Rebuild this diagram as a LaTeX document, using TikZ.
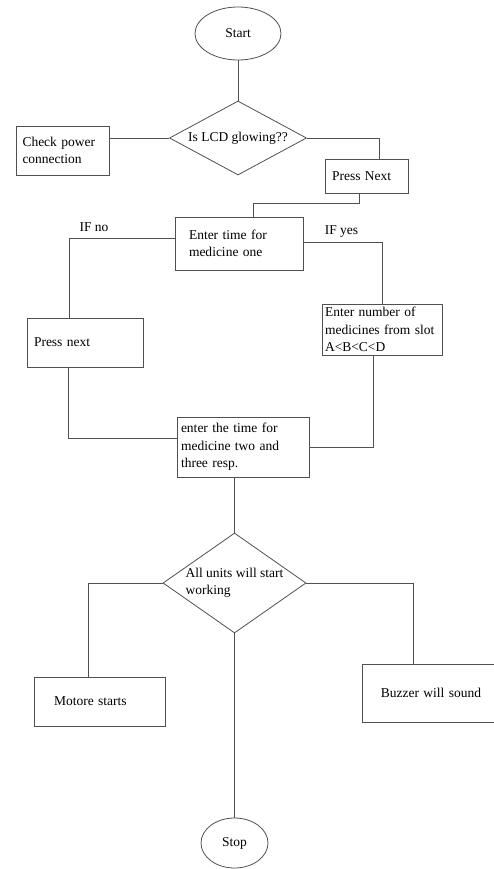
\documentclass[tikz,border=0pt]{standalone}
\usepackage{fontspec}
\setmainfont{Liberation Serif}
\usetikzlibrary{shapes.geometric}
\definecolor{linec}{HTML}{505050}
\begin{document}
\begin{tikzpicture}[x=1pt,y=-1pt,line width=0.8pt,
  every node/.style={font=\fontsize{13.5}{17.5}\selectfont, text=black},
  box/.style={draw=linec, rectangle, inner ysep=0pt, align=left},
  decision/.style={draw=linec, diamond, inner sep=0pt},
  term/.style={draw=linec, ellipse, inner sep=0pt},
  conn/.style={draw=linec, line width=0.8pt},
  lbl/.style={inner sep=0pt}]
\useasboundingbox (0,0) rectangle (493,869);

% terminals
\node[term, minimum width=86pt, minimum height=53pt] (start) at (238,33.5) {Start};
\node[term, minimum width=67pt, minimum height=50pt] (stop) at (234.5,843) {Stop};

% decisions
\node[decision, aspect=1.85, minimum width=137pt, minimum height=74pt] (d1) at (238,138) {Is LCD glowing??};
\node[decision, aspect=1.43, minimum width=143pt, minimum height=100pt, align=left] (d2) at (234.5,583) {All units will start\\working};

% boxes
\node[box, minimum width=93pt, minimum height=49pt, inner xsep=6.5pt, text width=80pt] (cp) at (62.5,150.5) {Check power\\connection};
\node[box, minimum width=83pt, minimum height=34pt, inner xsep=7pt, text width=69pt] (pn) at (366.5,176) {Press Next};
\node[box, minimum width=128pt, minimum height=53pt, inner xsep=14pt, text width=100pt] (et) at (239,243.5) {Enter time for\\medicine one};
\node[box, minimum width=116pt, minimum height=49pt, inner xsep=7pt, text width=102pt] (pnx) at (85,342.5) {Press next};
\node[box, minimum width=120pt, minimum height=51pt, inner xsep=3pt, text width=114pt] (en) at (382,329.5) {Enter number of\\medicines from slot\\A<B<C<D};
\node[box, minimum width=132pt, minimum height=60pt, inner xsep=4pt, text width=124pt] (tt) at (243,447) {enter the time for\\medicine two and\\three resp.};
\node[box, minimum width=131pt, minimum height=49pt, inner xsep=20pt, text width=91pt] (mo) at (99.5,701.5) {Motore starts};
\node[box, minimum width=138pt, minimum height=58pt, inner xsep=4pt, text width=130pt, align=center] (bz) at (431,693) {Buzzer will sound};

% labels
\node[lbl] (ifno) at (94,227) {IF no};
\node[lbl] (ifyes) at (341.5,232) {IF yes};

% connectors
\draw[conn] (start.south) -- (d1.north);
\draw[conn] (d1.west) -- (d1.west -| cp.east);
\draw[conn] (d1.east) -| ([xshift=12.5pt]pn.north);
\draw[conn] ([xshift=-7.5pt]pn.south) -- ++(0,10) -| ([xshift=14pt]et.north);
\draw[conn] ([yshift=5.5pt]et.west) -| ([xshift=-16pt]pnx.north);
\draw[conn] ([yshift=1.5pt]et.east) -| (en.north);
\draw[conn] ([xshift=-17pt]pnx.south) |- ([yshift=9pt]tt.west);
\draw[conn] ([xshift=-9pt]en.south) |- (tt.east);
\draw[conn] (tt.south -| d2.north) -- (d2.north);
\draw[conn] (d2.west) -| ([xshift=-11.5pt]mo.north);
\draw[conn] (d2.east) -| ([xshift=-18pt]bz.north);
\draw[conn] (d2.south) -- (stop.north);
\end{tikzpicture}
\end{document}
